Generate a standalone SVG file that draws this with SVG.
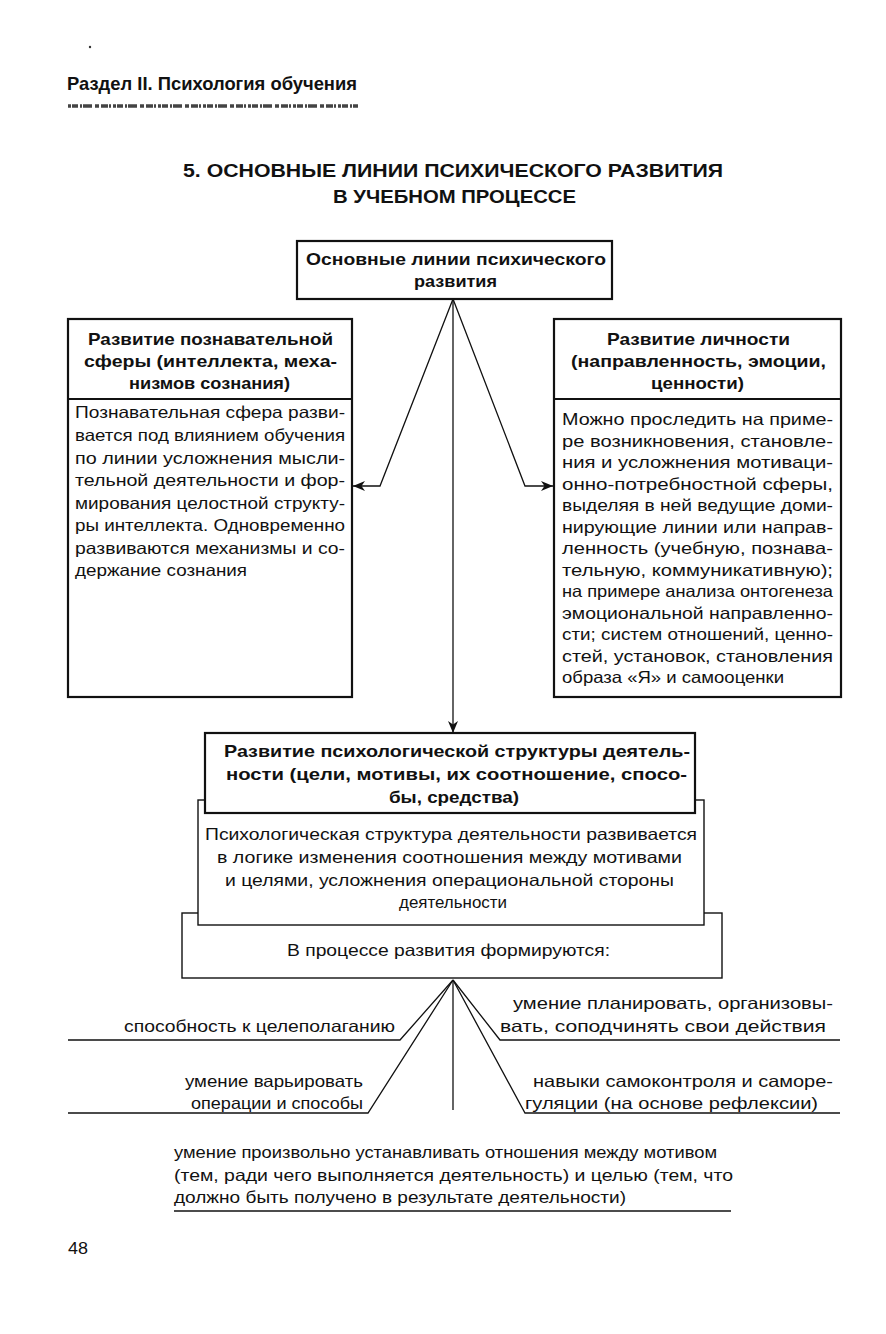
<svg xmlns="http://www.w3.org/2000/svg" width="886" height="1334" viewBox="0 0 886 1334">
<style>
  text { font-family: "Liberation Sans", Arial, sans-serif; fill: #111; }
  .thick { fill: #fff; stroke: #111; stroke-width: 2.2; }
  .thin { fill: #fff; stroke: #111; stroke-width: 1.4; }
  .con { fill: none; stroke: #111; stroke-width: 1.3; }
</style>
<defs>
  <marker id="arr" viewBox="0 0 12 10" refX="12" refY="5" markerWidth="12" markerHeight="10" markerUnits="userSpaceOnUse" orient="auto">
    <path d="M0,0 L12,5 L0,10 L3.5,5 z" fill="#111"/>
  </marker>
</defs>
<rect width="886" height="1334" fill="#fff"/>

<g id="page-header">
  <circle cx="90" cy="47" r="1.2" fill="#333"/>
  <text x="67" y="90" font-size="19" font-weight="bold" textLength="290" lengthAdjust="spacingAndGlyphs">Раздел II. Психология обучения</text>
  <line x1="68" y1="106" x2="358" y2="106" stroke="#444" stroke-width="3.5" stroke-dasharray="3 1 6 2 2 1 9 3 4 2 7 1 2 2"/>
</g>

<g id="title" font-size="19" font-weight="900">
  <text x="183" y="177" textLength="540" lengthAdjust="spacingAndGlyphs">5. ОСНОВНЫЕ ЛИНИИ ПСИХИЧЕСКОГО РАЗВИТИЯ</text>
  <text x="333" y="203" textLength="243" lengthAdjust="spacingAndGlyphs">В УЧЕБНОМ ПРОЦЕССЕ</text>
</g>

<g id="connectors">
  <path class="con" d="M453,299 L380,486 L353,486" marker-end="url(#arr)"/>
  <path class="con" d="M453,299 L525,486 L553,486" marker-end="url(#arr)"/>
  <path class="con" d="M453,299 L453,733" marker-end="url(#arr)"/>
  <path class="con" d="M453,980 L400,1040 L68,1040"/>
  <path class="con" d="M453,980 L368,1113 L68,1113"/>
  <path class="con" d="M453,980 L453,1110"/>
  <path class="con" d="M453,980 L500,1040 L840,1040"/>
  <path class="con" d="M453,980 L525,1113 L840,1113"/>
  <line class="con" x1="174" y1="1211" x2="731" y2="1211"/>
</g>

<g id="node-root" font-size="16.5" font-weight="bold">
  <rect class="thick" x="297" y="241" width="315" height="58"/>
  <text x="306" y="265" textLength="300" lengthAdjust="spacingAndGlyphs">Основные линии психического</text>
  <text x="414" y="287" textLength="83" lengthAdjust="spacingAndGlyphs">развития</text>
</g>

<g id="node-cognitive" font-size="16.5">
  <rect class="thick" x="68" y="319" width="284" height="378"/>
  <line x1="68" y1="399" x2="352" y2="399" stroke="#111" stroke-width="2.2"/>
  <g font-weight="bold">
    <text x="88" y="345" textLength="245" lengthAdjust="spacingAndGlyphs">Развитие познавательной</text>
    <text x="84" y="367" textLength="253" lengthAdjust="spacingAndGlyphs">сферы (интеллекта, меха-</text>
    <text x="129" y="389" textLength="161" lengthAdjust="spacingAndGlyphs">низмов сознания)</text>
  </g>
  <text x="75" y="418" textLength="270" lengthAdjust="spacingAndGlyphs">Познавательная сфера разви-</text>
  <text x="75" y="441" textLength="270" lengthAdjust="spacingAndGlyphs">вается под влиянием обучения</text>
  <text x="75" y="464" textLength="270" lengthAdjust="spacingAndGlyphs">по линии усложнения мысли-</text>
  <text x="75" y="486" textLength="270" lengthAdjust="spacingAndGlyphs">тельной деятельности и фор-</text>
  <text x="75" y="509" textLength="270" lengthAdjust="spacingAndGlyphs">мирования целостной структу-</text>
  <text x="75" y="531" textLength="270" lengthAdjust="spacingAndGlyphs">ры интеллекта. Одновременно</text>
  <text x="75" y="554" textLength="270" lengthAdjust="spacingAndGlyphs">развиваются механизмы и со-</text>
  <text x="75" y="576" textLength="172" lengthAdjust="spacingAndGlyphs">держание сознания</text>
</g>

<g id="node-personality" font-size="16.5">
  <rect class="thick" x="554" y="319" width="287" height="378"/>
  <line x1="554" y1="399" x2="841" y2="399" stroke="#111" stroke-width="2.2"/>
  <g font-weight="bold">
    <text x="607" y="345" textLength="183" lengthAdjust="spacingAndGlyphs">Развитие личности</text>
    <text x="571" y="367" textLength="255" lengthAdjust="spacingAndGlyphs">(направленность, эмоции,</text>
    <text x="651" y="389" textLength="93" lengthAdjust="spacingAndGlyphs">ценности)</text>
  </g>
  <text x="562" y="425" textLength="271" lengthAdjust="spacingAndGlyphs">Можно проследить на приме-</text>
  <text x="562" y="446.5" textLength="271" lengthAdjust="spacingAndGlyphs">ре возникновения, становле-</text>
  <text x="562" y="468" textLength="271" lengthAdjust="spacingAndGlyphs">ния и усложнения мотиваци-</text>
  <text x="562" y="489.5" textLength="271" lengthAdjust="spacingAndGlyphs">онно-потребностной сферы,</text>
  <text x="562" y="511" textLength="271" lengthAdjust="spacingAndGlyphs">выделяя в ней ведущие доми-</text>
  <text x="562" y="532.5" textLength="271" lengthAdjust="spacingAndGlyphs">нирующие линии или направ-</text>
  <text x="562" y="554" textLength="271" lengthAdjust="spacingAndGlyphs">ленность (учебную, познава-</text>
  <text x="562" y="575.5" textLength="271" lengthAdjust="spacingAndGlyphs">тельную, коммуникативную);</text>
  <text x="562" y="597" textLength="271" lengthAdjust="spacingAndGlyphs">на примере анализа онтогенеза</text>
  <text x="562" y="618.5" textLength="271" lengthAdjust="spacingAndGlyphs">эмоциональной направленно-</text>
  <text x="562" y="640" textLength="271" lengthAdjust="spacingAndGlyphs">сти; систем отношений, ценно-</text>
  <text x="562" y="661.5" textLength="271" lengthAdjust="spacingAndGlyphs">стей, установок, становления</text>
  <text x="562" y="683" textLength="222" lengthAdjust="spacingAndGlyphs">образа «Я» и самооценки</text>
</g>

<g id="node-forming" font-size="16.5">
  <rect class="thin" x="182" y="913" width="540" height="65"/>
  <text x="287" y="956" textLength="323" lengthAdjust="spacingAndGlyphs">В процессе развития формируются:</text>
</g>

<g id="node-activity-desc" font-size="16.5">
  <rect class="thin" x="198" y="800" width="506" height="125"/>
  <text x="205" y="840" textLength="492" lengthAdjust="spacingAndGlyphs">Психологическая структура деятельности развивается</text>
  <text x="217" y="863" textLength="465" lengthAdjust="spacingAndGlyphs">в логике изменения соотношения между мотивами</text>
  <text x="225" y="886" textLength="449" lengthAdjust="spacingAndGlyphs">и целями, усложнения операциональной стороны</text>
  <text x="399" y="908" textLength="108" lengthAdjust="spacingAndGlyphs">деятельности</text>
</g>

<g id="node-activity" font-size="16.5" font-weight="bold">
  <rect class="thick" x="205" y="733" width="490" height="80"/>
  <text x="224" y="757" textLength="466" lengthAdjust="spacingAndGlyphs">Развитие психологической структуры деятель-</text>
  <text x="226" y="780" textLength="461" lengthAdjust="spacingAndGlyphs">ности (цели, мотивы, их соотношение, спосо-</text>
  <text x="389" y="803" textLength="130" lengthAdjust="spacingAndGlyphs">бы, средства)</text>
</g>

<g id="node-goal-setting" font-size="16.5">
  <text x="124" y="1032" textLength="271" lengthAdjust="spacingAndGlyphs">способность к целеполаганию</text>
</g>
<g id="node-vary" font-size="16.5">
  <text x="185" y="1087" textLength="178" lengthAdjust="spacingAndGlyphs">умение варьировать</text>
  <text x="191" y="1109" textLength="172" lengthAdjust="spacingAndGlyphs">операции и способы</text>
</g>
<g id="node-plan" font-size="16.5">
  <text x="513" y="1009" textLength="320" lengthAdjust="spacingAndGlyphs">умение планировать, организовы-</text>
  <text x="500" y="1032" textLength="326" lengthAdjust="spacingAndGlyphs">вать, соподчинять свои действия</text>
</g>
<g id="node-selfcontrol" font-size="16.5">
  <text x="533" y="1087" textLength="300" lengthAdjust="spacingAndGlyphs">навыки самоконтроля и саморе-</text>
  <text x="525" y="1109" textLength="293" lengthAdjust="spacingAndGlyphs">гуляции (на основе рефлексии)</text>
</g>
<g id="node-relation" font-size="16.5">
  <text x="174" y="1158" textLength="543" lengthAdjust="spacingAndGlyphs">умение произвольно устанавливать отношения между мотивом</text>
  <text x="174" y="1181" textLength="559" lengthAdjust="spacingAndGlyphs">(тем, ради чего выполняется деятельность) и целью (тем, что</text>
  <text x="174" y="1203" textLength="452" lengthAdjust="spacingAndGlyphs">должно быть получено в результате деятельности)</text>
</g>

<g id="page-number">
  <text x="68" y="1254" font-size="17" textLength="20" lengthAdjust="spacingAndGlyphs">48</text>
</g>
</svg>
